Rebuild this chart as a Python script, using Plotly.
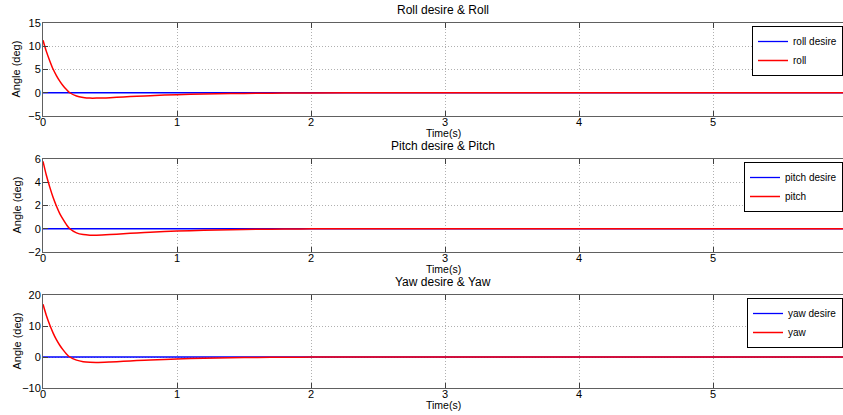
import plotly.graph_objects as go

W, H = 843, 415

# ---- data ----
t_pts = [0, 0.025, 0.05, 0.075, 0.1, 0.125, 0.15, 0.175, 0.2, 0.25, 0.3, 0.35, 0.4, 0.5, 0.6, 0.7, 0.8, 1.0, 1.2, 1.4, 1.6, 1.8, 2.0, 2.5, 3.0, 4.0, 5.0, 6.0]
roll =  [11.3, 8.9, 6.9, 5.1, 3.7, 2.5, 1.5, 0.7, 0.0, -0.7, -1.0, -1.15, -1.15, -1.05, -0.9, -0.75, -0.62, -0.42, -0.28, -0.18, -0.11, -0.06, -0.03, 0, 0, 0, 0, 0]
pitch = [5.8, 4.6, 3.6, 2.7, 1.95, 1.3, 0.8, 0.35, 0.0, -0.35, -0.5, -0.55, -0.55, -0.5, -0.43, -0.36, -0.3, -0.2, -0.13, -0.08, -0.05, -0.03, -0.01, 0, 0, 0, 0, 0]
yaw =   [17.0, 13.4, 10.4, 7.8, 5.6, 3.8, 2.3, 1.0, 0.0, -1.0, -1.5, -1.7, -1.75, -1.6, -1.4, -1.15, -0.95, -0.62, -0.4, -0.25, -0.15, -0.08, -0.04, 0, 0, 0, 0, 0]
desire = [0] * len(t_pts)

titles = ["Roll desire & Roll", "Pitch desire & Pitch", "Yaw desire & Yaw"]
desire_names = ["roll desire", "pitch desire", "yaw desire"]
actual_names = ["roll", "pitch", "yaw"]
y_ranges = [[-5, 15], [-2, 6], [-10, 20]]
y_ticks = [[-5, 0, 5, 10, 15], [-2, 0, 2, 4, 6], [-10, 0, 10, 20]]
x_ticks = [0, 1, 2, 3, 4, 5]
series = [roll, pitch, yaw]

# pixel boxes (top, bottom) of each axes
boxes = [(23, 116), (159, 252), (295, 388)]
x0px = 43

fig = go.Figure()
font = "Liberation Sans, Arial, sans-serif"
layout = dict(
    width=W, height=H, margin=dict(l=0, r=0, t=0, b=0, autoexpand=False),
    plot_bgcolor="white", paper_bgcolor="white",
    font=dict(family=font, size=11, color="black"),
    annotations=[],
)

for i in range(3):
    ax = "" if i == 0 else str(i + 1)
    top, bot = boxes[i]
    dom = [1 - bot / H, 1 - top / H]
    leg = "legend" if i == 0 else f"legend{i+1}"
    fig.add_trace(go.Scatter(x=t_pts, y=desire, mode="lines", name=desire_names[i],
                             line=dict(color="#0000ff", width=1.3),
                             xaxis="x" + ax, yaxis="y" + ax, legend=leg))
    fig.add_trace(go.Scatter(x=t_pts, y=series[i], mode="lines", name=actual_names[i],
                             line=dict(color="#ff0000", width=1.5, shape="spline", smoothing=0.8),
                             xaxis="x" + ax, yaxis="y" + ax, legend=leg))
    layout["xaxis" + ax] = dict(
        domain=[x0px / W, 1], range=[0, 5.97], anchor="y" + ax,
        tickvals=x_ticks, ticks="inside", ticklen=5, tickcolor="#404040",
        showline=True, linecolor="#606060", linewidth=1, mirror="ticks",
        showgrid=True, gridcolor="#b0b0b0", griddash="1px,2px", gridwidth=1,
        zeroline=False, tickfont=dict(size=11), ticklabelstandoff=-4,
    )
    layout["yaxis" + ax] = dict(
        domain=dom, range=y_ranges[i], anchor="x" + ax,
        tickvals=y_ticks[i], ticks="inside", ticklen=5, tickcolor="#404040",
        showline=True, linecolor="#606060", linewidth=1, mirror=False,
        showgrid=True, gridcolor="#b0b0b0", griddash="1px,2px", gridwidth=1,
        zeroline=False, tickfont=dict(size=11), ticklabelstandoff=-1,
    )
    # y axis title
    layout["annotations"].append(dict(
        text="Angle (deg)", x=16 / W, y=1 - (top + bot) / 2 / H,
        xref="paper", yref="paper", showarrow=False, textangle=-90,
        font=dict(size=11), xanchor="center", yanchor="middle"))
    # x axis title
    layout["annotations"].append(dict(
        text="Time(s)", x=(x0px + 843) / 2 / W, y=1 - (bot + 17) / H,
        xref="paper", yref="paper", showarrow=False, borderpad=0,
        font=dict(size=10.5), xanchor="center", yanchor="middle"))
    # subplot title
    layout["annotations"].append(dict(
        text=titles[i], x=(x0px + 843) / 2 / W, y=1 - (top - 13) / H,
        xref="paper", yref="paper", showarrow=False, borderpad=0,
        font=dict(size=12), xanchor="center", yanchor="middle"))
    layout[leg] = dict(
        x=1, y=1 - (top + 3) / H, xanchor="right", yanchor="top",
        bgcolor="white", bordercolor="black", borderwidth=1,
        font=dict(size=10), itemwidth=30, tracegroupgap=0,
    )

fig.update_layout(**layout)
fig.write_html("out.html")
